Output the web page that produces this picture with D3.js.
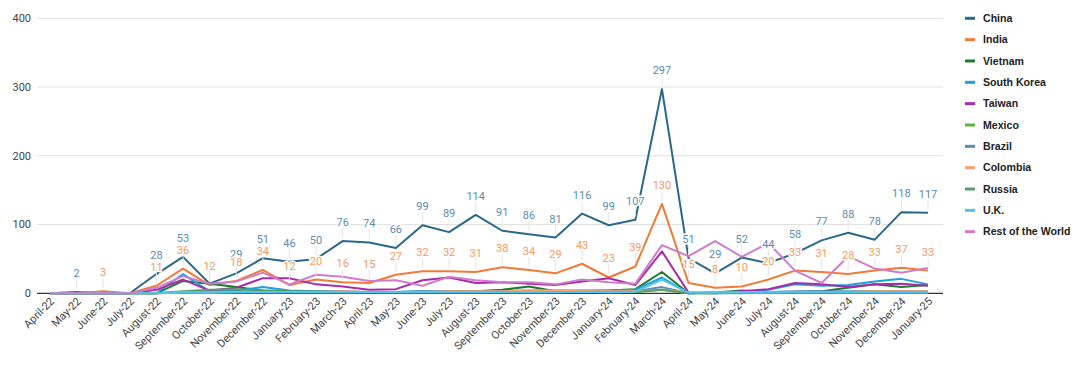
<!DOCTYPE html>
<html>
<head>
<meta charset="utf-8">
<script src="https://cdn.jsdelivr.net/npm/d3@7"></script>
<style>
  body { margin: 0; background: #fff; }
  svg { display: block; }
  .tick-label { font-family: Roboto, sans-serif; font-size: 11px; fill: #444; }
  .data-label { font-family: Roboto, sans-serif; font-size: 11px; paint-order: stroke; stroke: #fff; stroke-width: 3px; stroke-linejoin: round; }
  .legend-label { font-family: "Liberation Sans", Arial, sans-serif; font-size: 10.6px; font-weight: bold; fill: #222; }
</style>
</head>
<body>
<svg width="1080" height="375"></svg>
<script>
// months on the x axis
const months = ["April-22","May-22","June-22","July-22","August-22","September-22","October-22",
  "November-22","December-22","January-23","February-23","March-23","April-23","May-23","June-23",
  "July-23","August-23","September-23","October-23","November-23","December-23","January-24",
  "February-24","March-24","April-24","May-24","June-24","July-24","August-24","September-24",
  "October-24","November-24","December-24","January-25"];

const yTicks = [0, 100, 200, 300, 400];

// series values
const china     = [0,2,0,0,28,53,14,29,51,46,50,76,74,66,99,89,114,91,86,81,116,99,107,297,51,29,52,44,58,77,88,78,118,117];
const india     = [0,0,3,0,11,36,12,18,34,12,20,16,15,27,32,32,31,38,34,29,43,23,39,130,15,8,10,20,33,31,28,33,37,33];
const vietnam   = [0,0,0,0,0,18,14,9,4,3,2,2,2,1,2,3,3,5,10,3,3,4,6,31,0,1,4,2,2,3,8,13,9,12];
const southKorea= [0,0,0,0,0,28,3,4,9,4,3,3,2,2,3,3,3,3,4,4,4,4,5,23,0,1,2,5,13,11,12,17,21,13];
const taiwan    = [0,0,0,0,5,20,4,8,22,22,13,10,5,6,19,23,15,16,14,12,17,22,12,61,1,0,3,6,15,13,9,13,14,11];
const mexico    = [0,0,0,0,0,1,1,1,1,1,1,1,1,1,1,1,1,1,1,1,2,1,2,5,0,0,1,1,2,2,2,3,2,2];
const brazil    = [0,0,0,0,0,2,2,2,3,2,2,2,2,2,3,2,2,2,2,2,3,3,3,9,0,1,1,2,3,3,3,3,3,3];
const colombia  = [0,0,0,0,0,1,1,2,3,2,2,3,2,2,2,3,3,3,4,4,3,3,3,5,1,1,1,2,2,2,2,3,3,3];
const russia    = [0,0,0,0,0,3,5,6,4,3,3,2,2,2,2,2,2,2,2,2,2,2,2,5,0,0,0,1,1,1,1,1,1,1];
const uk        = [0,0,0,0,0,2,1,2,2,2,2,2,2,2,2,2,2,2,2,2,2,2,2,20,1,1,1,1,1,1,1,1,1,1];
const restWorld = [0,0,0,0,8,25,14,17,30,13,27,24,18,19,11,24,19,16,16,13,20,16,14,70,54,76,53,73,33,15,54,36,30,37];

const series = [
  { name: "China", values: china, color: "#2a6889", label: "#5b8cae" },
  { name: "India", values: india, color: "#f07a3a", label: "#f49a62" },
  { name: "Vietnam", values: vietnam, color: "#1d7a2f" },
  { name: "South Korea", values: southKorea, color: "#1ba1dc" },
  { name: "Taiwan", values: taiwan, color: "#a52ea8" },
  { name: "Mexico", values: mexico, color: "#5cb83a" },
  { name: "Brazil", values: brazil, color: "#5b8db0" },
  { name: "Colombia", values: colombia, color: "#f7a172" },
  { name: "Russia", values: russia, color: "#5a9e6e" },
  { name: "U.K.", values: uk, color: "#4fc4f0" },
  { name: "Rest of the World", values: restWorld, color: "#cf7ccc" }
];

const svg = d3.select("svg");
const x = d3.scalePoint().domain(months).range([50, 928]);
const y = d3.scaleLinear().domain([0, 400]).range([293.3, 18.3]);

// gridlines and y labels
svg.append("g").selectAll("line")
  .data(yTicks)
  .enter().append("line")
  .attr("x1", 37).attr("x2", 943)
  .attr("y1", d => y(d)).attr("y2", d => y(d))
  .attr("stroke", d => d === 0 ? "#333" : "#e0e0e0")
  .attr("stroke-width", d => d === 0 ? 1.2 : 1);

svg.append("g").selectAll("text")
  .data(yTicks)
  .enter().append("text")
  .attr("class", "tick-label")
  .attr("x", 31).attr("y", d => y(d))
  .attr("dy", "0.35em")
  .attr("text-anchor", "end")
  .text(d => d);

// x labels, rotated
svg.append("g").selectAll("text")
  .data(months)
  .enter().append("text")
  .attr("class", "tick-label")
  .attr("text-anchor", "end")
  .attr("transform", d => `translate(${x(d) + 5},${302}) rotate(-45)`)
  .text(d => d);

// lines
const line = d3.line()
  .x((d, i) => x(months[i]))
  .y(d => y(d));

svg.append("g").selectAll("path")
  .data(series)
  .enter().append("path")
  .attr("fill", "none")
  .attr("stroke", d => d.color)
  .attr("stroke-width", 2)
  .attr("stroke-linejoin", "round")
  .attr("d", d => line(d.values));

// data labels for China and India
const labelled = series.filter(s => s.label);
labelled.forEach(s => {
  const pts = s.values.map((v, i) => ({ v, m: months[i] })).filter(p => p.v > 0);
  const g = svg.append("g");
  g.selectAll("line")
    .data(pts)
    .enter().append("line")
    .attr("x1", d => x(d.m)).attr("x2", d => x(d.m))
    .attr("y1", d => y(d.v) - 13).attr("y2", d => y(d.v) - 3)
    .attr("stroke", "#e4e4e4");
  g.selectAll("text")
    .data(pts)
    .enter().append("text")
    .attr("class", "data-label")
    .attr("x", d => x(d.m))
    .attr("y", d => y(d.v) - 15)
    .attr("text-anchor", "middle")
    .attr("fill", s.label)
    .text(d => d.v);
});

// legend
const legend = svg.append("g").selectAll("g")
  .data(series)
  .enter().append("g")
  .attr("transform", (d, i) => `translate(965,${18.3 + i * 21.34})`);

legend.append("line")
  .attr("x1", 0).attr("x2", 10)
  .attr("stroke", d => d.color)
  .attr("stroke-width", 3);

legend.append("text")
  .attr("class", "legend-label")
  .attr("x", 18).attr("dy", "0.35em")
  .text(d => d.name);
</script>
</body>
</html>
